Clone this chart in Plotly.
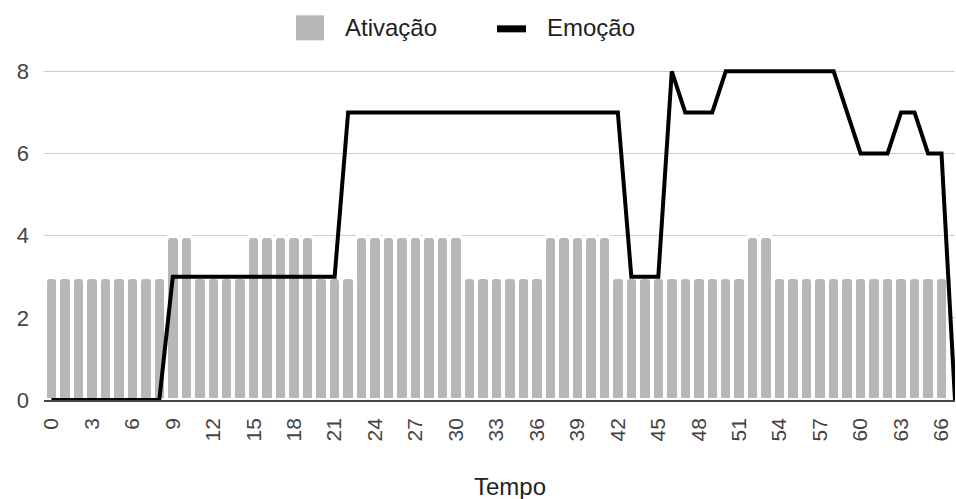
import plotly.graph_objects as go

# ---- data ----
tempo = list(range(0, 68))
ativacao = ([3] * 9 + [4] * 2 + [3] * 4 + [4] * 5 + [3] * 3 + [4] * 8 + [3] * 6
            + [4] * 5 + [3] * 10 + [4] * 2 + [3] * 13 + [None])
emocao = ([0] * 9 + [3] * 13 + [7] * 21 + [3] * 3 + [8] + [7] * 3 + [8] * 9
          + [7] + [6] * 3 + [7] * 2 + [6] * 2 + [0])
tick_vals = list(range(0, 67, 3))
tick_text = [str(v) for v in tick_vals]
y_ticks = [0, 2, 4, 6, 8]
series_names = ["Ativação", "Emoção"]

W, H = 956, 499
L, R, T, B = 44, 1, 67.7, 99
plot_h = H - T - B
plot_w = W - L - R

def px(xp):
    return (xp - L) / plot_w

def py(yp):
    return (H - B - yp) / plot_h

FONT = "Liberation Sans, Arial, sans-serif"
BAR_COLOR = "#b7b7b7"

fig = go.Figure()
fig.add_trace(go.Bar(
    x=tempo, y=ativacao, name=series_names[0],
    marker=dict(color=BAR_COLOR, line=dict(color="white", width=4), cornerradius=5),
    showlegend=False,
))
fig.add_trace(go.Scatter(
    x=tempo, y=emocao, name=series_names[1], mode="lines",
    line=dict(color="black", width=4), showlegend=False,
))

shapes = [
    dict(type="rect", xref="paper", yref="paper",
         x0=px(296), x1=px(324), y0=py(40), y1=py(15),
         fillcolor=BAR_COLOR, line=dict(width=0)),
    dict(type="line", xref="paper", yref="paper",
         x0=px(497), x1=px(526), y0=py(28.5), y1=py(28.5),
         line=dict(color="black", width=7)),
]
annotations = [
    dict(text=series_names[0], xref="paper", yref="paper", x=px(343), y=py(27),
         xanchor="left", yanchor="middle", showarrow=False,
         font=dict(family=FONT, size=24, color="#222")),
    dict(text=series_names[1], xref="paper", yref="paper", x=px(545), y=py(27),
         xanchor="left", yanchor="middle", showarrow=False,
         font=dict(family=FONT, size=24, color="#222")),
    dict(text="Tempo", xref="paper", yref="paper", x=px(510), y=py(487),
         xanchor="center", yanchor="middle", showarrow=False,
         font=dict(family=FONT, size=24, color="#222")),
]

fig.update_layout(
    width=W, height=H,
    margin=dict(l=L, r=R, t=T, b=B, autoexpand=False),
    paper_bgcolor="white", plot_bgcolor="white",
    bargap=0,
    shapes=shapes, annotations=annotations,
    font=dict(family=FONT, color="#444"),
    xaxis=dict(
        range=[-0.55, 67.0], tickmode="array", tickvals=tick_vals, ticktext=tick_text,
        tickangle=-90, tickfont=dict(size=21, color="#444", family=FONT),
        showgrid=False, zeroline=False, showline=True, linecolor="#444", linewidth=1.5,
        ticks="", ticklabelstandoff=8, automargin=False, ticklabeloverflow="allow",
    ),
    yaxis=dict(
        range=[0, 8.08], tickmode="array", tickvals=y_ticks,
        tickfont=dict(size=22, color="#444", family=FONT),
        showgrid=True, gridcolor="#cccccc", gridwidth=1.3, zeroline=False,
        ticks="", ticklabelstandoff=14, automargin=False,
    ),
)

fig.write_html(
    "out.html",
    config={"displayModeBar": False},
    post_script="document.body.style.margin='0';document.body.style.overflow='hidden';",
)
